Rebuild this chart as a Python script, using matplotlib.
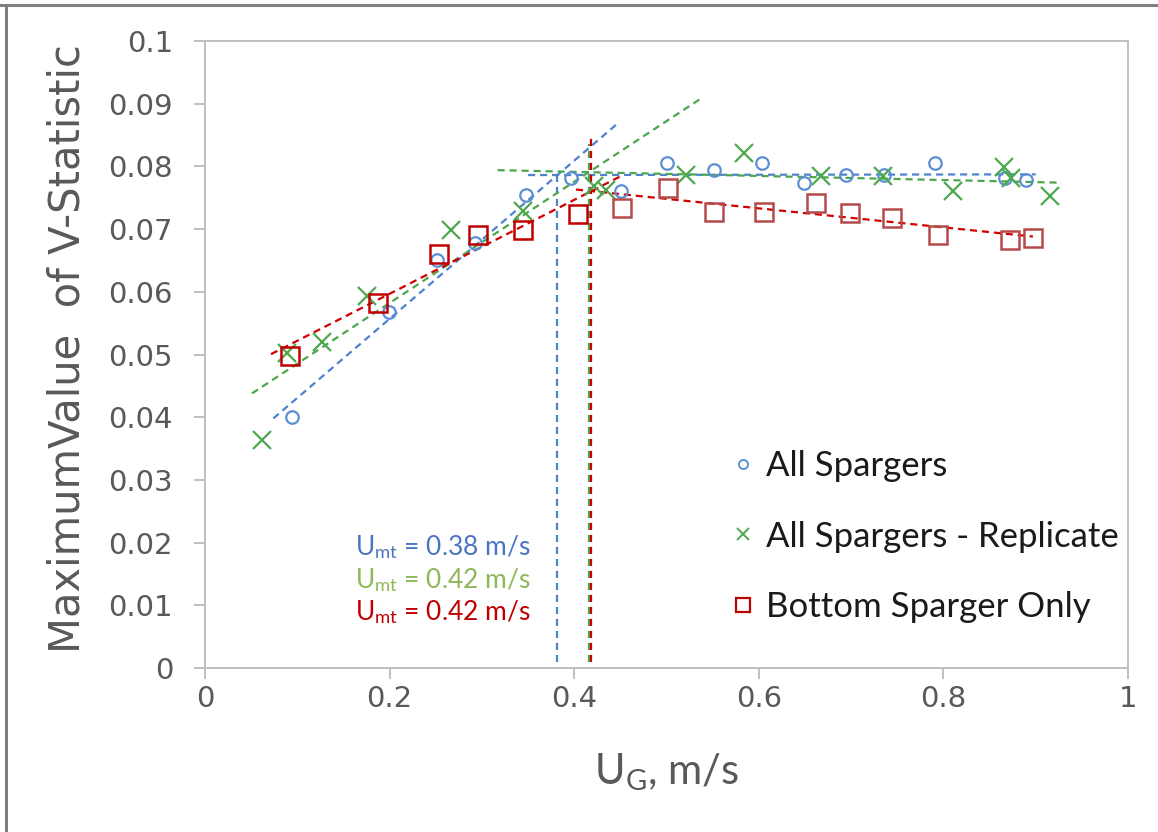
import matplotlib
matplotlib.use("Agg")
import matplotlib.pyplot as plt
from matplotlib.lines import Line2D
import numpy as np

# ---- measured data -------------------------------------------------------
ug_all = [0.094, 0.199, 0.251, 0.293, 0.348, 0.397, 0.451, 0.501, 0.551,
          0.603, 0.649, 0.694, 0.736, 0.791, 0.867, 0.890]
v_all = [0.0400, 0.0568, 0.0650, 0.0678, 0.0754, 0.0781, 0.0760, 0.0805,
         0.0794, 0.0805, 0.0773, 0.0787, 0.0787, 0.0806, 0.0781, 0.0778]

ug_rep = [0.062, 0.089, 0.127, 0.175, 0.266, 0.345, 0.421, 0.434, 0.521,
          0.584, 0.667, 0.735, 0.810, 0.866, 0.873, 0.916]
v_rep = [0.0363, 0.0502, 0.0520, 0.0594, 0.0698, 0.0729, 0.0768, 0.0763,
         0.0787, 0.0821, 0.0784, 0.0784, 0.0760, 0.0799, 0.0781, 0.0752]

ug_bot = [0.092, 0.187, 0.253, 0.296, 0.345, 0.404, 0.452, 0.502, 0.551,
          0.606, 0.662, 0.699, 0.744, 0.794, 0.872, 0.897]
v_bot = [0.0498, 0.0582, 0.0660, 0.0691, 0.0699, 0.0724, 0.0734, 0.0766,
         0.0727, 0.0728, 0.0742, 0.0725, 0.0718, 0.0691, 0.0682, 0.0686]

series_names = ["All Spargers", "All Spargers - Replicate", "Bottom Sparger Only"]

# linear fits below / above the transition: slope, intercept, x-extent
pre_slope = [0.1261, 0.0967, 0.0749]
pre_icpt = [0.03047, 0.03887, 0.0447]
pre_x0 = [0.074, 0.051, 0.0715]
pre_x1 = [0.446, 0.536, 0.452]

post_slope = [0.0002, -0.00327, -0.01515]
post_icpt = [0.07855, 0.08044, 0.0824]
post_x0 = [0.350, 0.317, 0.402]
post_x1 = [0.900, 0.928, 0.897]

# top end of the marker lines at the transition velocity
vline_top = [None, 0.0835, 0.0846]
vline_bottom = 0.001

# ---- styling -------------------------------------------------------------
c_blue_mk = "#5B8FD3"
c_green_mk = "#4EA84E"
c_red_mk = "#C00000"
c_red_mk2 = "#B54A4A"
c_blue_ln = "#4F82CC"
c_green_ln = "#4CA64C"
c_red_ln = "#D00000"
c_blue_tx = "#4A76C0"
c_green_tx = "#8DB857"
c_red_tx = "#C00000"
grey_txt = "#595959"
spine_grey = "#BFBFBF"

plt.rcParams["mathtext.fontset"] = "custom"
plt.rcParams["mathtext.rm"] = "Lato"
plt.rcParams["mathtext.it"] = "Lato:italic"

fig = plt.figure(figsize=(11.58, 8.32), dpi=100)
ax = fig.add_axes([205 / 1158, 1 - 668 / 832, 923 / 1158, 627 / 832])

ax.set_xlim(0, 1)
ax.set_ylim(0, 0.1)

# transition velocities from the intersection of the two fits
umt = [(post_icpt[i] - pre_icpt[i]) / (pre_slope[i] - post_slope[i]) for i in range(3)]

line_cols = [c_blue_ln, c_green_ln, c_red_ln]
dash = (0, (3.2, 2.2))
for i in range(3):
    xa = np.array([pre_x0[i], pre_x1[i]])
    ax.plot(xa, pre_slope[i] * xa + pre_icpt[i], color=line_cols[i], lw=1.6,
            ls=dash, zorder=2)
    xb = np.array([post_x0[i], post_x1[i]])
    ax.plot(xb, post_slope[i] * xb + post_icpt[i], color=line_cols[i], lw=1.6,
            ls=dash, zorder=2)
    top = vline_top[i] if vline_top[i] is not None else post_slope[i] * umt[i] + post_icpt[i]
    ax.plot([umt[i], umt[i]], [vline_bottom, top], color=line_cols[i], lw=1.6,
            ls=dash, zorder=2)

# markers
ax.plot(ug_all, v_all, ls="none", marker="o", ms=9, mfc="none", mec=c_blue_mk,
        mew=1.6, zorder=3)
ax.plot(ug_rep, v_rep, ls="none", marker="x", ms=13, mec=c_green_mk, mew=1.6,
        zorder=3)
ub = np.array(ug_bot)
vb = np.array(v_bot)
low = ub < umt[2]
ax.plot(ub[low], vb[low], ls="none", marker="s", ms=13, mfc="none",
        mec=c_red_mk, mew=1.8, zorder=3)
ax.plot(ub[~low], vb[~low], ls="none", marker="s", ms=13, mfc="none",
        mec=c_red_mk2, mew=1.8, zorder=3)

# transition velocity labels
tx_cols = [c_blue_tx, c_green_tx, c_red_tx]
tx_y = [0.0193, 0.0141, 0.0089]
for i in range(3):
    ax.text(0.163, tx_y[i], r"U$_{\mathrm{mt}}$ = %.2f m/s" % umt[i],
            color=tx_cols[i], fontsize=19, family="Lato", va="center", ha="left")

# axes styling
for s in ax.spines.values():
    s.set_color(spine_grey)
    s.set_linewidth(1.4)
ax.set_xticks(np.arange(0, 1.01, 0.2))
ax.set_yticks(np.arange(0, 0.1001, 0.01))
ax.set_xticklabels(["0", "0.2", "0.4", "0.6", "0.8", "1"])
ax.set_yticklabels(["0", "0.01", "0.02", "0.03", "0.04", "0.05", "0.06",
                    "0.07", "0.08", "0.09", "0.1"])
ax.tick_params(axis="both", direction="out", length=8, width=1.4,
               color=spine_grey, labelcolor=grey_txt, labelsize=21)
ax.tick_params(axis="y", pad=15)
ax.tick_params(axis="x", pad=4)
for lab in ax.get_xticklabels() + ax.get_yticklabels():
    lab.set_family("DejaVu Sans")

# axis titles
fig.text(68 / 1158, 1 - 349 / 832, "MaximumValue  of V-Statistic", rotation=90,
         ha="center", va="center", color=grey_txt, fontsize=30,
         family=["Liberation Sans Narrow", "DejaVu Sans"])
fig.text(667 / 1158, 1 - 772 / 832, r"U$_{\mathrm{G}}$, m/s", ha="center",
         va="center", color=grey_txt, fontsize=30, family="Lato")

# legend
handles = [
    Line2D([], [], ls="none", marker="o", ms=6.5, mfc="none", mec=c_blue_mk, mew=1.4),
    Line2D([], [], ls="none", marker="x", ms=9, mec=c_green_mk, mew=1.4),
    Line2D([], [], ls="none", marker="s", ms=10, mfc="none", mec=c_red_mk, mew=1.6),
]
leg = fig.legend(handles, series_names, loc="upper left",
                 bbox_to_anchor=(735 / 1158, 1 - 450 / 832), frameon=False,
                 prop={"family": "Lato", "size": 25}, handlelength=0.45,
                 handletextpad=0.45, labelspacing=1.11, borderpad=0,
                 borderaxespad=0)
for t in leg.get_texts():
    t.set_color("#1A1A1A")

# outer frame (top and left edges)
fig.add_artist(Line2D([0, 1], [1 - 5 / 832, 1 - 5 / 832], color="#7F7F7F",
                      lw=2.2, transform=fig.transFigure))
fig.add_artist(Line2D([6 / 1158, 6 / 1158], [0, 1 - 5 / 832], color="#7F7F7F",
                      lw=2.2, transform=fig.transFigure))

fig.savefig("out.png", dpi=100)
